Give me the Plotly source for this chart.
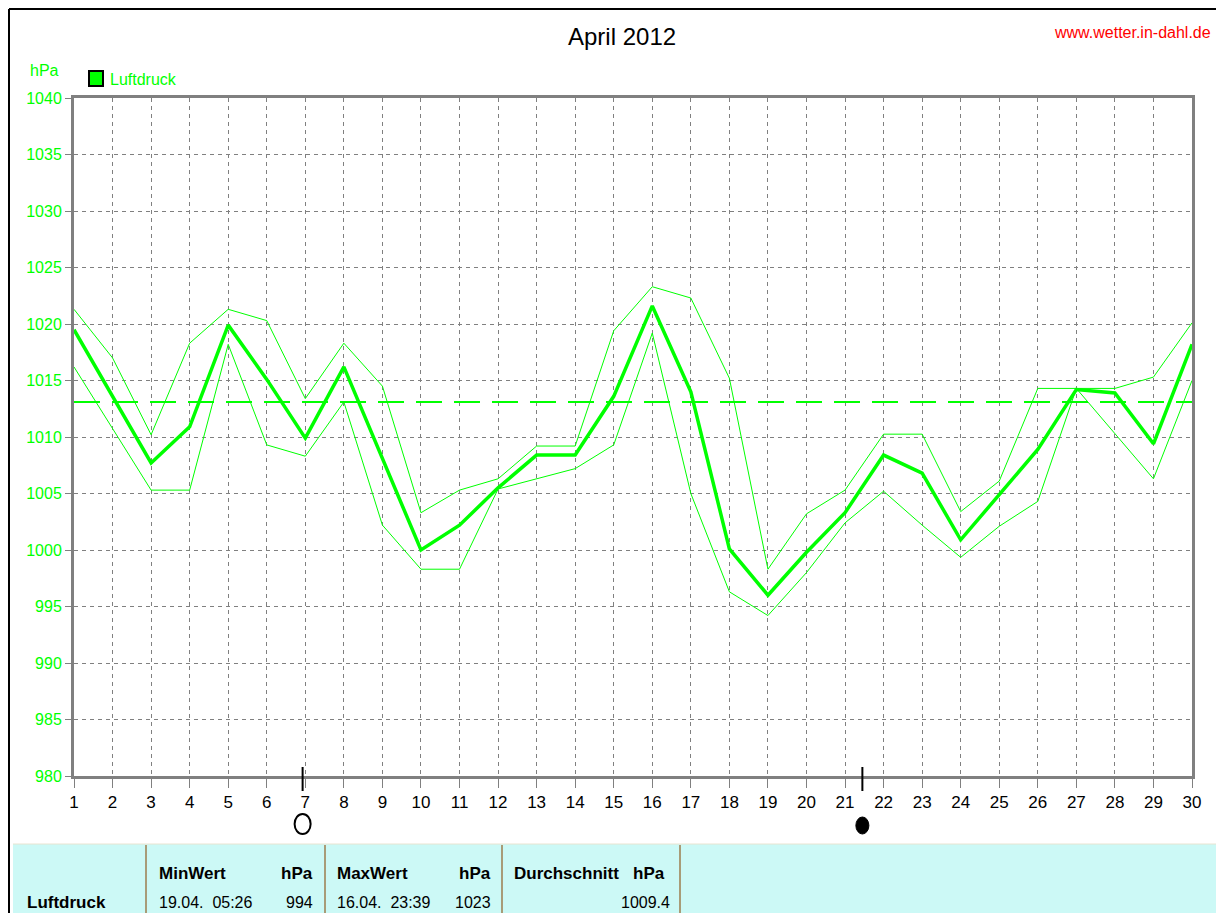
import plotly.graph_objects as go

# ---------------- data ----------------
days = list(range(1, 31))
pressure_mean = [1019.5, 1013.6, 1007.7, 1010.9, 1019.9, 1015.1, 1009.9, 1016.2, 1008.1, 1000.0,
                 1002.2, 1005.5, 1008.4, 1008.4, 1013.6, 1021.6, 1014.0, 1000.1, 996.0, 999.8,
                 1003.3, 1008.4, 1006.8, 1000.9, 1004.9, 1008.9, 1014.2, 1013.9, 1009.4, 1018.2]
pressure_max = [1021.3, 1017.0, 1010.2, 1018.3, 1021.3, 1020.3, 1013.4, 1018.3, 1014.5, 1003.3,
                1005.3, 1006.3, 1009.2, 1009.2, 1019.4, 1023.3, 1022.3, 1015.2, 998.3, 1003.2,
                1005.3, 1010.25, 1010.25, 1003.4, 1006.1, 1014.3, 1014.3, 1014.3, 1015.3, 1020.1]
pressure_min = [1016.2, 1010.8, 1005.3, 1005.3, 1018.2, 1009.3, 1008.3, 1013.1, 1002.2, 998.3,
                998.3, 1005.4, 1006.3, 1007.2, 1009.3, 1019.2, 1005.0, 996.3, 994.2, 998.0,
                1002.4, 1005.2, 1002.2, 999.35, 1002.1, 1004.3, 1014.3, 1010.3, 1006.3, 1015.0]
reference_level = 1013.1

y_ticks = list(range(980, 1041, 5))
x_ticks = days

full_moon_day = 6.93
new_moon_day = 21.45

table_header = ["MinWert", "hPa", "MaxWert", "hPa", "Durchschnitt\u00a0\u00a0\u00a0hPa"]
row_label = "Luftdruck"
min_when = "19.04.\u00a0\u00a005:26"
min_value = "994"
max_when = "16.04.\u00a0\u00a023:39"
max_value = "1023"
avg_value = "1009.4"

# ---------------- layout helpers ----------------
# page body has an 8px margin; the figure is sized to fill the rest of the window
OFF = 8
W, H = 1224 - OFF, 913 - OFF
PL, PR, PT, PB = 74, 1192, 98, 776   # plot area in page pixels


def px(x):
    return (x - PL) / (PR - PL)


def py(y):
    return (PB - y) / (PB - PT)


GREEN = "#00FF00"
FONT = "Liberation Sans, Arial"

fig = go.Figure()

fig.add_trace(go.Scatter(x=days, y=[reference_level] * len(days), mode="lines",
                         line=dict(color=GREEN, width=2, dash="26px,12px"),
                         hoverinfo="skip", showlegend=False))
fig.add_trace(go.Scatter(x=days, y=pressure_max, mode="lines",
                         line=dict(color=GREEN, width=1), showlegend=False, name="Max"))
fig.add_trace(go.Scatter(x=days, y=pressure_min, mode="lines",
                         line=dict(color=GREEN, width=1), showlegend=False, name="Min"))
fig.add_trace(go.Scatter(x=days, y=pressure_mean, mode="lines",
                         line=dict(color=GREEN, width=3.5), showlegend=False, name="Luftdruck"))

shapes = []
annotations = []

# outer black frame (left and top)
shapes.append(dict(type="line", xref="paper", yref="paper", x0=px(9), x1=px(9), y0=py(9), y1=py(913),
                   line=dict(color="black", width=2), layer="above"))
shapes.append(dict(type="line", xref="paper", yref="paper", x0=px(9), x1=px(1224), y0=py(9), y1=py(9),
                   line=dict(color="black", width=2), layer="above"))

# legend square
shapes.append(dict(type="rect", xref="paper", yref="paper", x0=px(89), x1=px(103), y0=py(71), y1=py(86),
                   fillcolor=GREEN, line=dict(color="black", width=2)))
annotations.append(dict(text="Luftdruck", xref="paper", yref="paper", x=px(108), y=py(79),
                        xanchor="left", yanchor="middle", showarrow=False,
                        font=dict(family=FONT, size=16, color=GREEN)))
annotations.append(dict(text="hPa", xref="paper", yref="paper", x=px(44), y=py(70),
                        xanchor="center", yanchor="middle", showarrow=False,
                        font=dict(family=FONT, size=16, color=GREEN)))
annotations.append(dict(text="April 2012", xref="paper", yref="paper", x=px(622), y=py(37),
                        xanchor="center", yanchor="middle", showarrow=False,
                        font=dict(family=FONT, size=24, color="black")))
annotations.append(dict(text="www.wetter.in-dahl.de", xref="paper", yref="paper", x=px(1213), y=py(32),
                        xanchor="right", yanchor="middle", showarrow=False,
                        font=dict(family=FONT, size=16, color="#FF0000")))

# moon phase markers
for d, filled in [(full_moon_day, False), (new_moon_day, True)]:
    shapes.append(dict(type="line", xref="x", yref="paper", x0=d, x1=d, y0=py(767), y1=py(791),
                       line=dict(color="black", width=2), layer="above"))
    if filled:
        shapes.append(dict(type="circle", xref="x", yref="paper", x0=d - 6.5 / 38.48, x1=d + 6.5 / 38.48,
                           y0=py(834), y1=py(817), fillcolor="black", line=dict(color="black", width=1)))
    else:
        shapes.append(dict(type="circle", xref="x", yref="paper", x0=d - 8 / 38.48, x1=d + 8 / 38.48,
                           y0=py(834), y1=py(814), fillcolor="white", line=dict(color="black", width=2)))

# statistics table
shapes.append(dict(type="rect", xref="paper", yref="paper", x0=px(13), x1=px(1222), y0=py(913), y1=py(844),
                   fillcolor="#CCF9F6", line=dict(width=0), layer="below"))
shapes.append(dict(type="line", xref="paper", yref="paper", x0=px(13), x1=px(1222), y0=py(844), y1=py(844),
                   line=dict(color="#E8E4D0", width=1)))
shapes.append(dict(type="line", xref="paper", yref="paper", x0=px(1222), x1=px(1222), y0=py(844), y1=py(913),
                   line=dict(color="#807850", width=2)))
for cx in [146, 325, 502, 680]:
    shapes.append(dict(type="line", xref="paper", yref="paper", x0=px(cx), x1=px(cx), y0=py(845), y1=py(913),
                       line=dict(color="#A89C78", width=2)))


def txt(s, x, y, anchor="left", bold=False):
    annotations.append(dict(text=("<b>%s</b>" % s) if bold else s, xref="paper", yref="paper",
                            x=px(x), y=py(y), xanchor=anchor, yanchor="middle", showarrow=False,
                            font=dict(family=FONT, size=17 if bold else 16, color="black")))


txt(row_label, 25, 902, bold=True)
txt(table_header[0], 157, 873, bold=True)
txt(table_header[1], 315, 873, "right", bold=True)
txt(table_header[2], 335, 873, bold=True)
txt(table_header[3], 493, 873, "right", bold=True)
txt(table_header[4], 512, 873, bold=True)
txt(min_when, 157, 902)
txt(min_value, 315, 902, "right")
txt(max_when, 335, 902)
txt(max_value, 493, 902, "right")
txt(avg_value, 672, 902, "right")

fig.update_layout(
    width=W, height=H,
    margin=dict(l=PL - OFF, r=W - (PR - OFF), t=PT - OFF, b=H - (PB - OFF), pad=0),
    paper_bgcolor="white", plot_bgcolor="white",
    showlegend=False,
    shapes=shapes, annotations=annotations,
    xaxis=dict(range=[1, 30], tickvals=x_ticks, ticktext=[str(t) for t in x_ticks],
               showgrid=True, gridcolor="#808080", griddash="4px,4px", gridwidth=1,
               showline=True, mirror=True, linecolor="#808080", linewidth=3,
               ticks="outside", ticklen=9, tickcolor="#808080", tickwidth=1,
               tickfont=dict(family=FONT, size=17, color="black"), zeroline=False, fixedrange=True),
    yaxis=dict(range=[980, 1040], tickvals=y_ticks, ticktext=[str(t) for t in y_ticks],
               showgrid=True, gridcolor="#808080", griddash="4px,4px", gridwidth=1,
               showline=True, mirror=True, linecolor="#808080", linewidth=3,
               ticks="outside", ticklen=6, tickcolor="#808080", tickwidth=1,
               tickfont=dict(family=FONT, size=16, color=GREEN), zeroline=False, fixedrange=True),
)

fig.write_html("out.html")
